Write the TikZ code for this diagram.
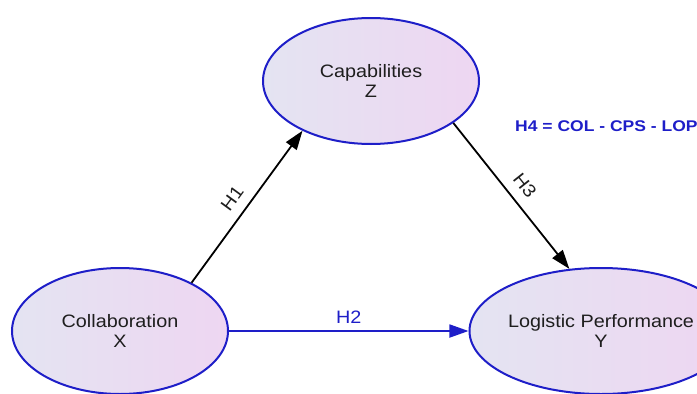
\documentclass[tikz,border=0pt]{standalone}
\usepackage{fontspec}
\usepackage{graphicx}
\setmainfont{Liberation Sans}
\usetikzlibrary{shapes.geometric,arrows.meta}
\definecolor{edgeblue}{RGB}{30,30,200}
\definecolor{fillL}{RGB}{228,228,242}
\definecolor{fillR}{RGB}{238,214,242}
\definecolor{txt}{RGB}{30,30,30}
\newcommand{\wide}[1]{\scalebox{1.1}[1]{#1}}
\tikzset{
  construct/.style={ellipse, draw=edgeblue, line width=2pt, left color=fillL, right color=fillR,
    align=center, text=txt, font=\fontsize{18}{20}\selectfont, inner sep=0pt,
    minimum width=216pt, minimum height=126pt},
  path1/.style={line width=1.8pt, -{Triangle[length=19pt,width=13pt]}},
  hlabel/.style={font=\fontsize{18}{18}\selectfont, text=txt, sloped, above, inner sep=10pt}
}
\begin{document}
\begin{tikzpicture}[x=1pt,y=-1pt]
\useasboundingbox (0,0) rectangle (697,394);
\node[construct] (Z) at (371,81) {\wide{Capabilities}\\\wide{Z}};
\node[construct] (X) at (120,331) {\wide{Collaboration}\\\wide{X}};
\node[construct] (Y) at (601,331) {\wide{Logistic Performance}\\\wide{Y}};
\draw[path1, black] (X.34) -- node[hlabel, pos=0.49] (h1) {\wide{H1}} (Z.216);
\draw[path1, black] (Z.333) -- node[hlabel, pos=0.5] (h3) {\wide{H3}} (Y.117);
\draw[path1, edgeblue] (X.east) -- node[hlabel, pos=0.5, text=edgeblue, inner sep=7pt] (h2) {\wide{H2}} (Y.west);
\node[anchor=west, text=edgeblue, font=\fontsize{15.5}{16}\selectfont\bfseries, inner sep=0pt] (h4) at (515,126) {\scalebox{1.13}[1]{H4 = COL - CPS - LOP}};
\end{tikzpicture}
\end{document}
